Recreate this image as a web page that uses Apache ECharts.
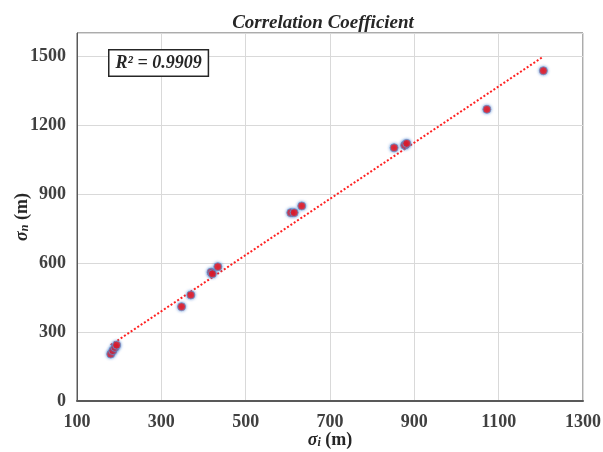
<!DOCTYPE html>
<html>
<head>
<meta charset="utf-8">
<script src="https://cdn.jsdelivr.net/npm/echarts@6/dist/echarts.min.js"></script>
<style>html,body{margin:0;padding:0;background:#fff;}#c{width:603px;height:452px;}</style>
</head>
<body>
<div id="c"></div>
<script>
// Data
var sigmaI = [180, 185, 190, 194, 348, 370, 418, 421, 434, 607, 615, 633, 852, 877, 882, 1072, 1206];
var sigmaN = [204, 219, 233, 243, 410, 461, 560, 553, 584, 819, 819, 848, 1101, 1112, 1120, 1268, 1436];
var xTicks = [100, 300, 500, 700, 900, 1100, 1300];
var yTicks = [0, 300, 600, 900, 1200, 1500];
var r2Text = 'R² = 0.9909';
var titleText = 'Correlation Coefficient';

var points = sigmaI.map(function (x, i) { return [x, sigmaN[i]]; });

// Linear least-squares trendline
var n = sigmaI.length, sx = 0, sy = 0, sxx = 0, sxy = 0;
for (var i = 0; i < n; i++) { sx += sigmaI[i]; sy += sigmaN[i]; sxx += sigmaI[i] * sigmaI[i]; sxy += sigmaI[i] * sigmaN[i]; }
var slope = (n * sxy - sx * sy) / (n * sxx - sx * sx);
var intercept = (sy - slope * sx) / n;
var xMin = Math.min.apply(null, sigmaI), xMax = Math.max.apply(null, sigmaI);
var trend = [[xMin, slope * xMin + intercept], [xMax, slope * xMax + intercept]];

var serif = '"Liberation Serif", "DejaVu Serif", serif';
var labelStyle = { fontFamily: serif, fontWeight: 'bold', fontSize: 18, color: '#404040' };
var nameRich = {
  s: { fontFamily: serif, fontStyle: 'italic', fontWeight: 'bold', fontSize: 18, color: '#262626' },
  sub: { fontFamily: serif, fontStyle: 'italic', fontWeight: 'bold', fontSize: 12, color: '#262626', verticalAlign: 'bottom', padding: [6, 0, 0, 0] },
  m: { fontFamily: serif, fontWeight: 'bold', fontSize: 18, color: '#262626' }
};

var chart = echarts.init(document.getElementById('c'));
chart.setOption({
  animation: false,
  backgroundColor: '#fff',
  title: {
    text: titleText,
    left: 318, top: 9, textAlign: 'center',
    textStyle: { fontFamily: serif, fontStyle: 'italic', fontWeight: 'bold', fontSize: 19, color: '#262626' }
  },
  grid: { left: 77, right: 20, top: 33, bottom: 51, show: true, borderColor: '#595959', borderWidth: 1,
    containLabel: false, outerBoundsMode: 'none' },
  xAxis: {
    type: 'value', min: xTicks[0], max: xTicks[xTicks.length - 1], interval: 200,
    axisLine: { show: true, lineStyle: { color: '#595959', width: 2 } },
    axisTick: { show: false },
    splitLine: { show: true, lineStyle: { color: '#d9d9d9', width: 1 } },
    axisLabel: Object.assign({ margin: 12, formatter: function (v) { return String(v); } }, labelStyle),
    name: '{s|σ}{sub|i}{m| (m)}', nameLocation: 'middle', nameGap: 30, nameMoveOverlap: false,
    nameTextStyle: { rich: nameRich }
  },
  yAxis: {
    type: 'value', min: 0, max: 1600, interval: 300,
    axisLine: { show: true, lineStyle: { color: '#595959', width: 1 } },
    axisTick: { show: false },
    splitLine: { show: true, lineStyle: { color: '#d9d9d9', width: 1 } },
    axisLabel: Object.assign({ margin: 11, showMaxLabel: false,
      formatter: function (v) { return yTicks.indexOf(v) >= 0 ? String(v) : ''; } }, labelStyle),
    name: '{s|σ}{sub|n}{m| (m)}', nameLocation: 'middle', nameGap: 46, nameRotate: 90, nameMoveOverlap: false,
    nameTextStyle: { rich: nameRich }
  },
  graphic: [{
    type: 'text', left: 108, top: 49,
    style: {
      text: r2Text, fontFamily: serif, fontStyle: 'italic', fontWeight: 'bold', fontSize: 18, fill: '#262626',
      backgroundColor: '#fff', borderColor: '#262626', borderWidth: 1.5, padding: [4, 6, 3, 6]
    },
    z: 100
  }],
  series: [
    {
      type: 'line', data: trend, showSymbol: false, symbol: 'none', silent: true,
      lineStyle: { color: '#ff2020', width: 2, type: [2, 2] }, z: 2
    },
    {
      type: 'scatter', data: points, symbol: 'circle', symbolSize: 8,
      itemStyle: { color: '#ff0000', borderColor: 'rgba(91,155,213,0.9)', borderWidth: 1,
        shadowBlur: 3, shadowColor: 'rgba(70,130,210,0.9)' },
      z: 3
    }
  ]
});
</script>
</body>
</html>
